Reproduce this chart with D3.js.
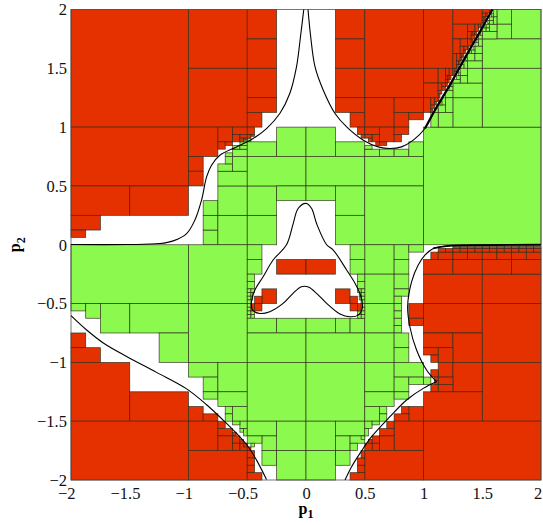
<!DOCTYPE html>
<html><head><meta charset="utf-8">
<style>html,body{margin:0;padding:0;background:#fff}svg{display:block}</style>
<script src="https://cdn.jsdelivr.net/npm/d3@7"></script></head><body>
<svg id="c" width="543" height="525"></svg>
<script>
// cells are [p1 min, p1 max, p2 min, p2 max] in eighths of a unit
const redCells=[
[-16,-8,8,16],[-16,-8,4,8],[-16,-12,2,4],[-12,-8,2,4],[-16,-14,1,2],[-16,-15,.5,1],
[-8,-4,12,16],[-8,-4,8,12],[-4,-2,14,16],[-4,-2,12,14],[-4,-2,10,12],[-4,-2,9,10],[-4,-3,8,9],
[-8,-6,6,8],[-8,-7,5,6],[-8,-7,4,5],[-6,-5,7,8],[-6,-5.5,6.5,7],[-5.5,-5,6.75,7],[-5,-4,7.5,8],[-4,-3.5,7.5,8],
[-5,-4.5,7,7.5],[-4.5,-4,7.25,7.5],[-4.5,-4.25,7,7.25],[-4.25,-4,7.125,7.25],[-4,-3.75,7.25,7.5],[-3.75,-3.5,7.375,7.5],
[2,4,14,16],[2,4,12,14],[2,4,10,12],[2,4,9,10],[3,4,8,9],[3.5,4,7.5,8],
[4,8,12,16],[4,8,10,12],[4,6,8,10],[6,8,9,10],[6,7,8,9],[7,8,8.5,9],
[4,5,7.5,8],[5,6,7,8],[6,7,7.5,8],[6,6.5,7,7.5],[4.5,5,7,7.5],[4,4.5,7.25,7.5],[4.25,4.5,7,7.25],[4.75,5,6.75,7],[5,5.5,6.75,7],[3.75,4,7.25,7.5],
[8,10,12,16],[10,12,15,16],[12,12.5,15.75,16],[12.5,12.625,15.875,16],[12,12.25,15.5,15.75],[12.25,12.375,15.5,15.75],[12,12.125,15.25,15.5],
[10,11,14,15],[11,11.5,14.5,15],[11.5,11.75,14.5,15],[11.75,11.875,14.75,15],[11,11.25,14,14.5],[11.25,11.375,14.25,14.5],
[10,10.5,13,14],[10.5,11,13.5,14],[10.5,10.75,13,13.5],[11,11.25,13.5,14],[11.25,11.375,13.75,14],
[10,10.25,12,13],[10.25,10.5,12.5,13],[10.5,10.625,12.75,13],[10.25,10.375,12.25,12.5],
[8,9,11,12],[9,9.5,11,12],[9.5,9.75,11.5,12],[9.75,10,11.5,12],[9.5,9.625,11.25,11.5],
[8,9,10,11],[9,9.25,10.5,11],[9.25,9.5,10.75,11],[9.5,9.625,11,11.25],
[8,8.5,9,10],[8.5,8.75,9.5,10],[8.75,9,9.75,10],
[12.5,12.5625,15.75,15.875],[12.125,12.25,15.25,15.5],[12,12.125,15.125,15.25],[12,12.0625,15,15.125],[11.875,11.9375,14.75,15],
[11.375,11.5,14.25,14.5],[11.5,11.625,14.25,14.5],[11.25,11.5,14,14.25],[10.75,11,13.25,13.5],[11,11.0625,13.25,13.5],[10.75,10.875,13,13.25],
[10.625,10.75,12.75,13],[10.5,10.625,12.5,12.75],[10.375,10.5,12.25,12.5],[10.25,10.375,12,12.25],[10,10.125,11.5,12],[10.125,10.25,11.75,12],
[9.625,9.75,11.25,11.5],[9.75,9.875,11.25,11.5],[9.625,9.75,11,11.25],[9.5,9.625,10.75,11],[9.25,9.5,10.5,10.75],[9,9.25,10.25,10.5],[9,9.125,10,10.25],
[9,9.0625,9.75,10],[8.75,8.875,9.5,9.75],[8.5,8.75,9.25,9.5],[8.5,8.625,9,9.25],
[-16,-15,-7,-6],[-16,-14,-8,-7],[-16,-12,-12,-8],[-12,-8,-12,-10],[-16,-8,-16,-12],[-8,-7,-12,-11],[-7,-6,-12,-11.5],
[-8,-4,-16,-14],[-8,-6,-14,-12],[-6,-5.5,-12.5,-12],[-6,-5,-13,-12.5],[-6,-5,-14,-13],[-5,-4.75,-13,-12.75],[-5,-4.5,-13.5,-13],[-5,-4.5,-14,-13.5],
[-4.5,-4.25,-13.5,-13.25],[-4.5,-4,-14,-13.5],[-4.25,-4,-13.75,-13.5],[-4,-3.75,-14,-13.75],[-4,-3.5,-14.5,-14],[-4,-3.5,-15,-14.5],[-4,-3.5,-15.5,-15],[-4,-3,-16,-15.5],
[-3,-2,-4,-3],[-3.5,-3,-4,-3.5],[-3.5,-3,-4.5,-4],[-3.75,-3.5,-4.5,-4],[-2,0,-2,-1],[0,2,-2,-1],[2,3,-4,-3],[3,3.5,-4,-3.5],[3,3.5,-4.5,-4],[3.5,3.75,-4.5,-4],
[8,12,-4,-2],[12,16,-4,-2],[8,12,-6,-4],[12,16,-8,-4],[12,16,-12,-8],[8,10,-7,-6],[10,12,-8,-6],[9,10,-8,-7],[8,9,-7.5,-7],[8.5,9,-8,-7.5],
[9,10,-9,-8],[10,12,-10,-8],[9,10,-9.5,-9],[9,10,-10,-9.5],[8.5,9,-9,-8.5],[8.75,9,-9.25,-9],[8.75,9,-9.5,-9.25],[8.5,9,-10,-9.5],
[8,12,-12,-10],[8,16,-16,-12],[7,8,-12,-11],[6.5,7,-11.5,-11],[6,7,-12,-11.5],[6,8,-14,-12],[5.5,6,-12.5,-12],[5,6,-13,-12.5],[5,6,-14,-13],[4.5,5,-13.5,-13],[4.5,5,-14,-13.5],[4,4.5,-14,-13.5],[4.25,4.5,-13.5,-13.25],
[4,8,-16,-14],[3.5,4,-15,-14.5],[3.5,4,-15.5,-15],[3,4,-16,-15.5],[3.75,4,-14.5,-14],[7,8,-5,-4],[7,8,-5.5,-5],
[8,10,-2,-1],[10,12,-2,-1],[12,14,-2,-1],[14,16,-2,-1],
[8.5,9,-1,-.5],[9,10,-1,-.5],[10,11,-1,-.5],[11,12,-1,-.5],[12,13,-1,-.5],[13,14,-1,-.5],[14,15,-1,-.5],[15,16,-1,-.5],
[9,9.5,-.5,-.25],[9.5,10,-.5,-.25],[10,10.5,-.5,-.25],[10.5,11,-.5,-.25],[11,11.5,-.5,-.25],[11.5,12,-.5,-.25],[12,12.5,-.5,-.25],[12.5,13,-.5,-.25],[13,13.5,-.5,-.25],[13.5,14,-.5,-.25],[14,14.5,-.5,-.25],[14.5,15,-.5,-.25],[15,15.5,-.5,-.25],[15.5,16,-.5,-.25],
[10,10.5,-.25,-.125],[10.5,11,-.25,-.125],[11,11.5,-.25,-.125],[11.5,12,-.25,-.125],[12,12.5,-.25,-.125],[12.5,13,-.25,-.125],[13,13.5,-.25,-.125],[13.5,14,-.25,-.125],[14,14.5,-.25,-.125],[14.5,15,-.25,-.125],[15,15.5,-.25,-.125],[15.5,16,-.25,-.125]
];
const greenCells=[
[-7,-6,0,1],[-7,-6,1,2],[-7,-6,2,3],[-6,-4,0,2],[-6,-4,2,4],[-4,-2,0,2],[-4,-2,2,4],[-6,-4,4,5],[-6,-5,5,5.5],[-5,-4,5,6],[-5.5,-5,5.5,6],
[-5.5,-5,6,6.25],[-5,-4,6,6.5],[-5,-4.5,6.5,6.75],[-4.5,-4,6.5,6.75],[-4.5,-4,6.75,7],[-4.25,-4,7,7.125],[-4,-3.75,7,7.25],
[-4,-2,6,7],[-4,0,4,6],[0,4,4,6],[-2,0,6,8],[0,2,6,8],[-2,0,3,4],[0,2,3,4],[2,4,2,4],[2,4,0,2],[2,4,6,7],[4,8,4,6],[4,8,0,4],[8,16,0,8],
[4,5,6,6.5],[5,6,6,6.5],[6,7,6,6.5],[7,8,6,7],[4,4.5,6.5,6.75],
[14,16,14,16],[13,14,15,16],[13,14,14,15],[12,16,12,14],[12,16,8,12],[10,12,8,10],[10,12,10,11],[9,10,8,9],[8.5,9,8,9],
[12.5,13,14.5,15],[12,13,14,14.5],[12.75,13,15.5,16],[12.75,13,15,15.5],[12.5,12.75,15.25,15.5],[12.5,12.75,15,15.25],[12.25,12.5,14.75,15],[12.25,12.5,14.5,14.75],[12,12.25,14.5,14.75],
[11.75,12,13.5,14],[11.5,11.75,13.5,13.75],[11.5,12,13,13.5],[11.25,11.5,13,13.25],[11,11.5,12.5,13],[11.5,12,12.5,13],[11,12,12,12.5],[10.75,11,12,12.5],[10.5,10.75,12,12.25],
[11,12,11,12],[10.5,11,11.5,12],[10.5,11,11,11.5],[10.25,10.5,11.25,11.5],[10,10.5,11,11.25],[9.875,10,10.75,11],[9.75,10,10.5,10.75],[9.5,10,10,10.5],
[9.5,10,9,10],[9.25,9.5,9.5,10],[9,9.5,9,9.5],[8.75,9,9,9.25],
[12.625,12.75,15.5,15.75],[12.375,12.5,15,15.25],[12.125,12.25,14.75,15],[11.875,12,14.25,14.5],[11.75,12,14,14.25],[11.625,11.75,13.75,14],[11.375,11.5,13.25,13.5],[11.125,11.25,13,13.25],[10.875,11,12.5,12.75],[10.375,10.5,11.5,11.75],[9.125,9.25,9.5,9.75],
[-16,-8,-4,0],[-8,-4,-4,0],[-16,-15,-4.5,-4],[-15,-14,-5,-4],[-14,-12,-6,-4],[-12,-8,-6,-4],[-10,-8,-8,-6],[-8,-4,-8,-4],
[-8,-6,-9,-8],[-7,-6,-10,-9],[-7,-6,-10.5,-10],[-6,-4,-10,-8],[-6,-4,-11,-10],[-5.5,-5,-11.5,-11],[-5.5,-5,-12,-11.5],[-5,-4,-12,-11],
[-4.5,-4,-12.5,-12],[-5,-4.5,-12.25,-12],[-4.5,-4.25,-12.75,-12.5],[-4.25,-4,-13,-12.5],
[-4,-3,-1,0],[-4,-3,-2,-1],[-4,-3.5,-2.5,-2],[-4,-3.5,-3,-2.5],
[-4,-3.75,-3.25,-3],[-3.75,-3.5,-3.25,-3],[-4,-3.75,-3.5,-3.25],[-3.75,-3.625,-3.5,-3.25],[-4,-3.75,-3.75,-3.5],[-3.75,-3.625,-3.75,-3.5],[-4,-3.75,-4,-3.75],[-4,-3.75,-4.25,-4],[-4,-3.75,-4.5,-4.25],[-4,-3.75,-4.75,-4.5],[-3.75,-3.5,-4.75,-4.5],[-4,-3.75,-5,-4.75],[-3.75,-3.5,-5,-4.75],
[-4,-2,-6,-5],[-2,0,-6,-5],[-4,0,-8,-6],[-4,0,-12,-8],[-4,-2,-13,-12],[-2,0,-14,-12],[-3,-2,-14,-13],[-3,-2,-15,-14],[-2,0,-16,-14],[-4,-3,-13.5,-13],[-3.75,-3.5,-13.75,-13.5],
[0,2,-6,-5],[2,3,-6,-5],[3,4,-6,-5],[0,4,-8,-6],[0,4,-12,-8],[0,2,-14,-12],[2,4,-13,-12],[2,3,-14,-13],[3,4,-13.5,-13],[3,3.5,-14,-13.5],[2,3,-15,-14],[0,2,-16,-14],
[4,5,-12,-11],[5,5.5,-11.5,-11],[5,5.5,-12,-11.5],[4,4.5,-12.5,-12],[4.5,5,-12.25,-12],[4,4.25,-13,-12.5],[3.75,4,-13.25,-13],
[4,6,-2,0],[4,6,-4,-2],[4,6,-6,-4],[4,6,-8,-6],[4,6,-10,-8],[4,6,-11,-10],
[3,4,-1,0],[3,4,-2,-1],[3.5,4,-2.5,-2],[3.5,4,-3,-2.5],
[3.75,4,-3.25,-3],[3.5,3.75,-3.25,-3],[3.75,4,-3.5,-3.25],[3.625,3.75,-3.5,-3.25],[3.75,4,-3.75,-3.5],[3.625,3.75,-3.75,-3.5],[3.75,4,-4,-3.75],[3.75,4,-4.25,-4],[3.75,4,-4.5,-4.25],[3.75,4,-4.75,-4.5],[3.5,3.75,-4.75,-4.5],[3.75,4,-5,-4.75],[3.5,3.75,-5,-4.75],
[6,7,-1,0],[6,7,-2,-1],[6,7,-3,-2],[6,7,-3.5,-3],[6,6.5,-4,-3.5],[6,6.5,-4.5,-4],[6,6.5,-5,-4.5],[6,6.5,-5.5,-5],[6,6.5,-6,-5.5],[6,7,-7,-6],[6,7,-8,-7],[6,8,-9,-8],[6,7,-10,-9],[7,8,-9.5,-9],[8,8.5,-9.5,-9],[6,7,-10.5,-10],[7,8,-.5,0]
];
const curveUpper=[[-2,.002],[-1.527,.002],[-1.243,.01],[-1.13,.033],[-1.016,.095],[-.946,.209],[-.889,.379],[-.846,.577],[-.804,.676],[-.733,.761],[-.591,.832],[-.45,.903],[-.336,.988],[-.223,1.116],[-.138,1.286],[-.081,1.512],[-.047,1.768],[-.019,2]];
const curvePeak=[[.017,2],[.04,1.768],[.077,1.512],[.147,1.314],[.247,1.116],[.346,1.002],[.488,.889],[.615,.832],[.714,.818],[.813,.832],[.913,.889],[1.012,.988],[1.097,1.144],[1.224,1.357],[1.366,1.612],[1.48,1.81],[1.587,2]];
const curveRightA=[[1.998,0],[1.536,-.003],[1.196,-.011],[1.083,-.031],[1.012,-.088],[.955,-.173],[.899,-.314],[.865,-.527],[.884,-.697],[.941,-.895],[1.026,-1.065],[1.111,-1.165]];
const curveRightB=[[1.111,-1.165],[.998,-1.221],[.856,-1.32],[.714,-1.462],[.558,-1.632],[.459,-1.774],[.388,-1.887],[.332,-2]];
const curveLower=[[-2,-.603],[-1.867,-.725],[-1.725,-.835],[-1.527,-.95],[-1.272,-1.085],[-1.016,-1.225],[-.846,-1.36],[-.705,-1.491],[-.591,-1.604],[-.492,-1.717],[-.421,-1.831],[-.336,-1.995]];
const curveLoop=[[0,.352],[.048,.308],[.09,.18],[.176,0],[.232,-.045],[.346,-.215],[.417,-.328],[.468,-.442],[.479,-.541],[.445,-.598],[.374,-.612],[.289,-.589],[.176,-.499],[.09,-.413],[.02,-.36],[-.039,-.357],[-.11,-.413],[-.195,-.499],[-.308,-.569],[-.393,-.584],[-.455,-.555],[-.464,-.484],[-.435,-.385],[-.365,-.272],[-.28,-.13],[-.166,0],[-.109,.18],[-.067,.308]];
const xTicks=[-2,-1.5,-1,-.5,0,.5,1,1.5,2];
const yTicks=[-2,-1.5,-1,-.5,0,.5,1,1.5,2];
const redColor="#e53000",greenColor="#8cf94f";

const svg=d3.select("#c");
const x=d3.scaleLinear().domain([-2,2]).range([71,541]);
const y=d3.scaleLinear().domain([-2,2]).range([480,9.5]);
const font='"Liberation Serif",serif';
function draw(cells,fill){
  svg.append("g").selectAll("rect").data(cells).join("rect")
   .attr("x",d=>x(d[0]/8)).attr("width",d=>x(d[1]/8)-x(d[0]/8))
   .attr("y",d=>y(d[3]/8)).attr("height",d=>y(d[2]/8)-y(d[3]/8))
   .attr("fill",fill).attr("stroke","#2a2a1a").attr("stroke-width",.75).attr("stroke-opacity",.85);
}
draw(greenCells,greenColor);
draw(redCells,redColor);
svg.append("rect").attr("x",x(-2)).attr("y",y(2)).attr("width",x(2)-x(-2)).attr("height",y(-2)-y(2))
 .attr("fill","none").attr("stroke","#555").attr("stroke-width",.8);
const line=d3.line().x(d=>x(d[0])).y(d=>y(d[1])).curve(d3.curveCatmullRom.alpha(.5));
function stroke(c,w){svg.append("path").attr("d",line(c)).attr("fill","none").attr("stroke","#000").attr("stroke-width",w);}
[curveUpper,curvePeak,curveRightA,curveRightB,curveLower].forEach(c=>stroke(c,1.1));
stroke(curvePeak.slice(11),2.2);
stroke(curveRightA.slice(0,4),1.8);
svg.append("path").attr("d",d3.line().x(d=>x(d[0])).y(d=>y(d[1])).curve(d3.curveCatmullRomClosed.alpha(.5))(curveLoop))
 .attr("fill","none").attr("stroke","#000").attr("stroke-width",1.1);
const xa=svg.append("g").attr("transform",`translate(0,${y(-2)})`).call(d3.axisBottom(x).tickValues(xTicks).tickSize(0).tickPadding(7).tickFormat(d3.format("~g")));
const ya=svg.append("g").attr("transform",`translate(${x(-2)},0)`).call(d3.axisLeft(y).tickValues(yTicks).tickSize(0).tickPadding(4).tickFormat(d3.format("~g")));
[xa,ya].forEach(a=>{a.select(".domain").remove();a.selectAll("text").attr("font-family",font).attr("font-size",16.5).attr("fill","#111");});
xa.selectAll("text").attr("dx",d=>d<0?-4.8:(d===2?-3.5:0));
const t1=svg.append("text").attr("x",x(0)).attr("y",514).attr("text-anchor","middle").attr("font-family",font).attr("font-weight","bold").attr("font-size",16);
t1.append("tspan").text("p");t1.append("tspan").attr("dy",3.5).attr("font-size",12).text("1");
const t2=svg.append("text").attr("transform",`translate(20,${y(0)}) rotate(-90)`).attr("text-anchor","middle").attr("font-family",font).attr("font-weight","bold").attr("font-size",16);
t2.append("tspan").text("p");t2.append("tspan").attr("dy",5).attr("font-size",12).text("2");
</script></body></html>
